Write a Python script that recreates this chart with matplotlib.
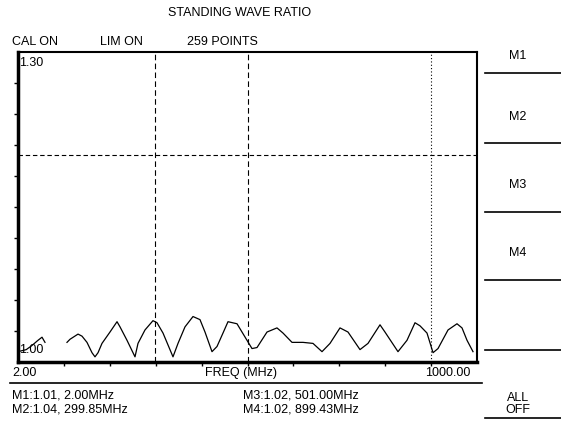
import numpy as np
import matplotlib
matplotlib.use('Agg')
import matplotlib.pyplot as plt

# trace (MHz, SWR); NaN where the trace drops out
freq = [2.0, 20.0, 32.4, 45.5, 54.2, 60.7, np.nan,
        108.5, 115.1, 132.5, 141.2, 152.0, 162.9, 169.4, 176.0, 184.6, 202.0,
        217.3, 223.8, 239.0, 256.4, 262.9, 278.1, 295.5, 304.2, 317.3, 339.0,
        349.9, 365.1, 382.5, 397.7, 408.6, 423.8, 434.7, 447.7, 458.6, 478.2,
        499.9, 510.8, 521.7, 543.4, 565.1, 578.2, 597.8, 621.7, 643.4, 663.0,
        680.4, 702.1, 719.5, 745.6, 763.0, 789.1, 799.9, 828.2, 847.8, 865.2,
        876.1, 891.3, 904.4, 915.2, 937.0, 956.5, 967.4, 978.3, 991.3]
swr = [1.010, 1.012, 1.016, 1.021, 1.024, 1.019, np.nan,
       1.019, 1.022, 1.027, 1.025, 1.019, 1.009, 1.005, 1.009, 1.018, 1.029,
       1.039, 1.034, 1.021, 1.005, 1.018, 1.031, 1.040, 1.038, 1.028, 1.005,
       1.018, 1.034, 1.044, 1.041, 1.029, 1.010, 1.015, 1.028, 1.039, 1.037,
       1.021, 1.013, 1.014, 1.029, 1.033, 1.028, 1.019, 1.019, 1.018, 1.010,
       1.018, 1.033, 1.029, 1.012, 1.018, 1.036, 1.029, 1.010, 1.021, 1.038,
       1.035, 1.028, 1.009, 1.013, 1.031, 1.037, 1.033, 1.021, 1.010]

markers = ['M1', 'M2', 'M3', 'M4']
marker_freq = [2.00, 299.85, 501.00, 899.43]
marker_swr = [1.01, 1.04, 1.02, 1.02]
limit_swr = 1.20
f_start, f_stop = 2.00, 1000.00
y_min, y_max = 1.00, 1.30

W, H = 561, 429
plt.rcParams['font.family'] = ['Liberation Sans', 'DejaVu Sans']


def px(x, y):
    return x / W, 1 - y / H


fig = plt.figure(figsize=(W / 100, H / 100), dpi=100)
fig.patch.set_facecolor('white')

left, top, right, bottom = 18, 52, 477, 362
ax = fig.add_axes([left / W, 1 - bottom / H, (right - left) / W, (bottom - top) / H])
ax.plot(freq, swr, color='black', lw=0.9)
ax.set_xlim(f_start, f_stop)
ax.set_ylim(y_min, y_max)

# limit line and marker lines
ax.axhline(limit_swr, color='black', lw=0.8, ls=(0, (4, 2.5)))
ax.axvline(marker_freq[1], color='black', lw=0.8, ls=(0, (5, 3)))
ax.axvline(marker_freq[2], color='black', lw=0.8, ls=(0, (5, 3)))
ax.axvline(marker_freq[3], color='black', lw=0.8, ls=(0, (1, 2)))

ax.set_xticks([f_start + k * (f_stop - f_start) / 10 for k in range(1, 10)])
ax.set_yticks([y_min + k * (y_max - y_min) / 10 for k in range(1, 10)])
ax.tick_params(axis='x', direction='out', length=3, width=1, labelbottom=False)
ax.tick_params(axis='y', direction='out', length=3, width=1, labelleft=False)
ax.spines['left'].set_linewidth(2.5)
ax.spines['bottom'].set_linewidth(2.5)
ax.spines['top'].set_linewidth(1.5)
ax.spines['right'].set_linewidth(1.5)

fs = 9
ax.text(0.003, 0.985, '%.2f' % y_max, transform=ax.transAxes, ha='left', va='top',
        fontsize=fs)
ax.text(0.003, 0.02, '%.2f' % y_min, transform=ax.transAxes, ha='left', va='bottom',
        fontsize=fs)

fig.text(*px(240, 13), 'STANDING WAVE RATIO', ha='center', va='center', fontsize=fs)
fig.text(*px(12, 42), 'CAL ON', ha='left', va='center', fontsize=fs)
fig.text(*px(100, 42), 'LIM ON', ha='left', va='center', fontsize=fs)
fig.text(*px(187, 42), '259 POINTS', ha='left', va='center', fontsize=fs)

fig.text(*px(12, 373), '%.2f' % f_start, ha='left', va='center', fontsize=fs)
fig.text(*px(241, 373), 'FREQ (MHz)', ha='center', va='center', fontsize=fs)
fig.text(*px(470, 373), '%.2f' % f_stop, ha='right', va='center', fontsize=fs)
fig.add_artist(plt.Line2D([10 / W, 482 / W], [1 - 383 / H] * 2, color='black', lw=1.2))

rows = [(12, 395), (12, 410), (243, 395), (243, 410)]
for (x, y), m, f, s in zip(rows, markers, marker_freq, marker_swr):
    fig.text(*px(x, y), '%s:%.2f, %.2fMHz' % (m, s, f), ha='left', va='center',
             fontsize=fs)

# softkey panel
key_y = [56, 117, 185, 253]
for m, y in zip(markers, key_y):
    fig.text(*px(518, y), m, ha='center', va='center', fontsize=fs)
fig.text(*px(518, 404), 'ALL\nOFF', ha='center', va='center', fontsize=fs,
         linespacing=1.0)
for y in [73, 143, 212, 280, 350, 418]:
    fig.add_artist(plt.Line2D([485 / W, 1.0], [1 - y / H] * 2, color='black', lw=1.2))

fig.savefig('out.png', dpi=100)
